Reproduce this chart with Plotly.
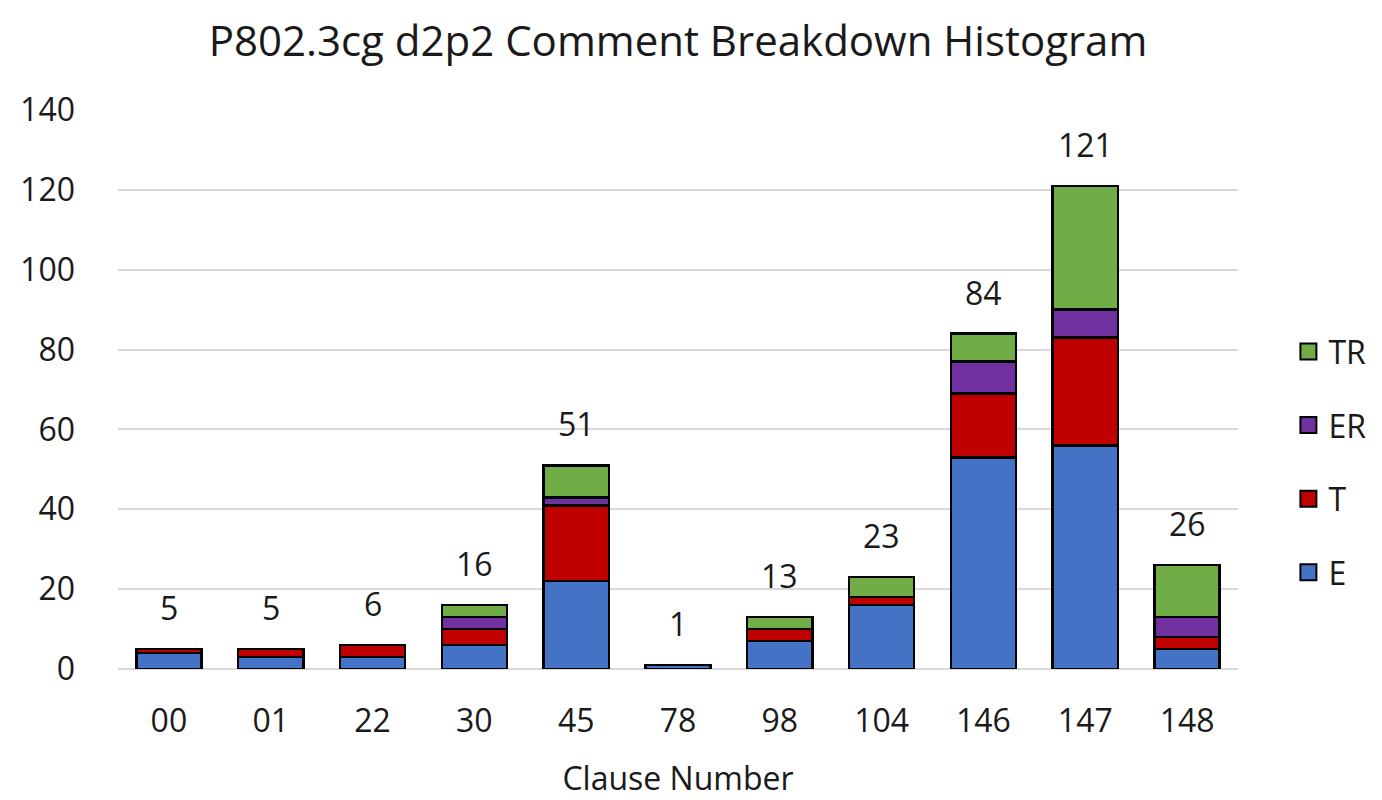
import plotly.graph_objects as go

clauses = ["00", "01", "22", "30", "45", "78", "98", "104", "146", "147", "148"]
E = [4, 3, 3, 6, 22, 1, 7, 16, 53, 56, 5]
T = [1, 2, 3, 4, 19, 0, 3, 2, 16, 27, 3]
ER = [0, 0, 0, 3, 2, 0, 0, 0, 8, 7, 5]
TR = [0, 0, 0, 3, 8, 0, 3, 5, 7, 31, 13]
totals = [5, 5, 6, 16, 51, 1, 13, 23, 84, 121, 26]

series = [("E", E, "#4472C4"), ("T", T, "#C00000"), ("ER", ER, "#7030A0"), ("TR", TR, "#70AD47")]

font_family = "Open Sans, Noto Sans, sans-serif"
txt = "#1a1a1a"
fig = go.Figure()
for name, vals, color in series:
    fig.add_trace(go.Bar(
        x=clauses, y=vals, name=name, marker=dict(color=color, line=dict(color="#000000", width=2.5)),
        showlegend=False,
    ))
# legend proxies (large square swatches)
for name, vals, color in reversed(series):
    fig.add_trace(go.Scatter(
        x=[clauses[0]], y=[None], mode="markers", name=name, legendgroup=name,
        marker=dict(symbol="square", size=24, color=color, line=dict(color="#000000", width=2)),
    ))

for i, t in enumerate(totals):
    fig.add_annotation(x=i, y=t, text=str(t), showarrow=False, yanchor="bottom", yshift=18,
                       font=dict(size=32, color=txt, family=font_family))

fig.update_layout(
    barmode="stack",
    bargap=0.36,
    width=1382, height=800,
    paper_bgcolor="white", plot_bgcolor="white",
    margin=dict(l=110, r=152, t=102, b=139),
    font=dict(family=font_family, color=txt, size=32),
    title=dict(text="P802.3cg d2p2 Comment Breakdown Histogram", x=0.5, xref="paper", xanchor="center",
               y=0.958, yanchor="middle", font=dict(size=42, color=txt, family=font_family)),
    legend=dict(x=1.045, xanchor="left", y=0.37, yanchor="middle", tracegroupgap=29,
                font=dict(size=32, color=txt), itemwidth=30, traceorder="grouped"),
    xaxis=dict(title=dict(text="Clause Number", font=dict(size=32), standoff=27),
               tickfont=dict(size=32), showline=False, ticks="", type="category",
               range=[-0.5, len(clauses) - 0.5], tickangle=0, ticklabelstandoff=30),
    yaxis=dict(range=[0, 140], dtick=20, tickfont=dict(size=32), gridcolor="#D9D9D9", gridwidth=2,
               zeroline=True, zerolinecolor="#D9D9D9", zerolinewidth=2, showline=False, ticks="",
               ticklabelstandoff=42),
)

fig.write_html("out.html")
